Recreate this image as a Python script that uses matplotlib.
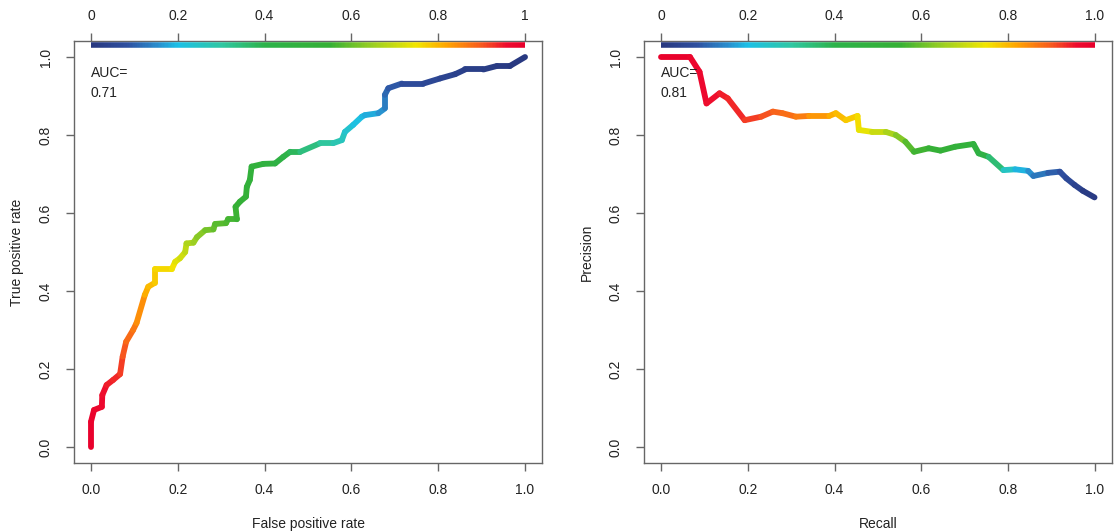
import numpy as np
import matplotlib
matplotlib.use("Agg")
import matplotlib.pyplot as plt
from matplotlib.collections import LineCollection
from matplotlib.colors import LinearSegmentedColormap

plt.rcParams['font.family'] = ['Liberation Sans', 'DejaVu Sans']
plt.rcParams['font.size'] = 10

# ROC curve: false positive rate, true positive rate, cutoff at each point
roc_fpr = [0.0, 0.0, 0.007, 0.025, 0.026, 0.036, 0.051, 0.067, 0.073, 0.081,
           0.097, 0.105, 0.124, 0.132, 0.147, 0.147, 0.186, 0.194, 0.205, 0.217,
           0.220, 0.236, 0.244, 0.263, 0.282, 0.286, 0.311, 0.316, 0.336, 0.333,
           0.343, 0.357, 0.359, 0.366, 0.370, 0.397, 0.424, 0.443, 0.459, 0.482,
           0.528, 0.558, 0.578, 0.585, 0.604, 0.624, 0.631, 0.662, 0.677, 0.677,
           0.685, 0.716, 0.766, 0.804, 0.839, 0.862, 0.904, 0.935, 0.965, 1.0]
roc_tpr = [0.0, 0.065, 0.095, 0.103, 0.133, 0.159, 0.172, 0.187, 0.232, 0.270,
           0.300, 0.318, 0.390, 0.411, 0.421, 0.456, 0.456, 0.475, 0.484, 0.500,
           0.522, 0.524, 0.538, 0.556, 0.558, 0.572, 0.574, 0.584, 0.584, 0.616,
           0.629, 0.642, 0.667, 0.685, 0.719, 0.726, 0.727, 0.744, 0.757, 0.757,
           0.779, 0.779, 0.787, 0.808, 0.826, 0.847, 0.851, 0.856, 0.868, 0.903,
           0.920, 0.932, 0.932, 0.945, 0.956, 0.968, 0.968, 0.977, 0.977, 1.0]
roc_cut = [1.0, 0.99, 0.98, 0.97, 0.96, 0.95, 0.94, 0.93, 0.91, 0.89,
           0.87, 0.86, 0.82, 0.80, 0.79, 0.77, 0.76, 0.74, 0.72, 0.70,
           0.68, 0.66, 0.64, 0.62, 0.60, 0.59, 0.58, 0.57, 0.56, 0.55,
           0.54, 0.53, 0.52, 0.51, 0.50, 0.48, 0.46, 0.43, 0.40, 0.36,
           0.32, 0.29, 0.27, 0.25, 0.22, 0.20, 0.19, 0.17, 0.15, 0.12,
           0.10, 0.08, 0.06, 0.05, 0.04, 0.03, 0.02, 0.015, 0.01, 0.0]
roc_auc = "0.71"

# precision / recall curve
pr_rec = [0.0, 0.067, 0.089, 0.105, 0.135, 0.154, 0.193, 0.231, 0.258, 0.280,
          0.311, 0.342, 0.388, 0.403, 0.426, 0.453, 0.456, 0.487, 0.518, 0.541,
          0.563, 0.583, 0.617, 0.644, 0.678, 0.720, 0.732, 0.755, 0.789, 0.816,
          0.846, 0.858, 0.892, 0.919, 0.934, 0.953, 0.972, 0.999]
pr_prec = [1.0, 1.0, 0.962, 0.881, 0.907, 0.894, 0.838, 0.847, 0.860, 0.856,
           0.847, 0.849, 0.849, 0.856, 0.838, 0.849, 0.813, 0.808, 0.808, 0.800,
           0.783, 0.757, 0.766, 0.760, 0.770, 0.777, 0.753, 0.744, 0.710, 0.712,
           0.708, 0.695, 0.703, 0.706, 0.689, 0.672, 0.657, 0.640]
pr_cut = [1.0, 0.98, 0.97, 0.96, 0.95, 0.94, 0.93, 0.91, 0.90, 0.88,
          0.87, 0.85, 0.82, 0.80, 0.79, 0.77, 0.75, 0.72, 0.68, 0.65,
          0.60, 0.57, 0.55, 0.54, 0.52, 0.50, 0.46, 0.42, 0.29, 0.21,
          0.17, 0.14, 0.11, 0.09, 0.07, 0.05, 0.03, 0.0]
pr_auc = "0.81"

ticks = [0.0, 0.2, 0.4, 0.6, 0.8, 1.0]
top_labels_roc = ["0", "0.2", "0.4", "0.6", "0.8", "1"]
top_labels_pr = ["0", "0.2", "0.4", "0.6", "0.8", "1.0"]

paleta = LinearSegmentedColormap.from_list("cutoff", [
    (0.00, "#28387f"), (0.08, "#2f4f9f"), (0.15, "#2a8ccc"), (0.20, "#1cc0e6"),
    (0.30, "#2fc7a2"), (0.40, "#2db24a"), (0.55, "#35b035"), (0.65, "#9bcf22"),
    (0.75, "#f2e600"), (0.82, "#ffa500"), (0.90, "#f75a1e"), (0.96, "#ee0a2e"),
    (1.00, "#e8002c")])

gris = "#666666"
texto = "#222222"


def curva_coloreada(ax, x, y, cut):
    pts = np.column_stack([x, y])
    segs = np.stack([pts[:-1], pts[1:]], axis=1)
    c = np.asarray(cut)
    lc = LineCollection(segs, colors=paleta((c[:-1] + c[1:]) / 2), linewidths=4.2,
                        capstyle="round", joinstyle="round")
    ax.add_collection(lc)


def barra_color(ax):
    # gradient of cutoff values drawn along the top edge
    v = np.linspace(0, 1, 300)
    yb = 1.032
    segs = [[(v[i], yb), (v[i + 1], yb)] for i in range(len(v) - 1)]
    lc = LineCollection(segs, colors=paleta((v[:-1] + v[1:]) / 2), linewidths=4.0,
                        capstyle="butt", clip_on=False, zorder=5)
    ax.add_collection(lc)


def preparar(ax, xlabel, ylabel, top_labels, auc):
    ax.set_xlim(-0.04, 1.04)
    ax.set_ylim(-0.04, 1.04)
    for s in ax.spines.values():
        s.set_color(gris)
        s.set_linewidth(1.0)
    ax.set_xticks(ticks)
    ax.set_xticklabels([f"{t:.1f}" for t in ticks], color=texto)
    ax.set_yticks(ticks)
    ax.set_yticklabels([f"{t:.1f}" for t in ticks], rotation=90, va="center", color=texto)
    ax.tick_params(axis="x", direction="out", length=6, width=1, color=gris, pad=9)
    ax.tick_params(axis="y", direction="out", length=6, width=1, color=gris, pad=9)
    top = ax.secondary_xaxis("top")
    top.set_xticks(ticks)
    top.set_xticklabels(top_labels, color=texto)
    top.tick_params(direction="out", length=6, width=1, color=gris, pad=7)
    top.spines["top"].set_visible(False)
    ax.set_xlabel(xlabel, color=texto, labelpad=14)
    ax.set_ylabel(ylabel, color=texto, labelpad=11)
    ax.text(0.0, 0.96, "AUC=", color=texto, ha="left", va="center")
    ax.text(0.0, 0.908, auc, color=texto, ha="left", va="center")
    barra_color(ax)


fig = plt.figure(figsize=(11.14, 5.31), dpi=100)
ax1 = fig.add_axes([0.0661, 0.1288, 0.4208, 0.7932])
ax2 = fig.add_axes([0.5777, 0.1288, 0.4208, 0.7932])

curva_coloreada(ax1, roc_fpr, roc_tpr, roc_cut)
preparar(ax1, "False positive rate", "True positive rate", top_labels_roc, roc_auc)

curva_coloreada(ax2, pr_rec, pr_prec, pr_cut)
preparar(ax2, "Recall", "Precision", top_labels_pr, pr_auc)

fig.savefig("out.png", dpi=100)
